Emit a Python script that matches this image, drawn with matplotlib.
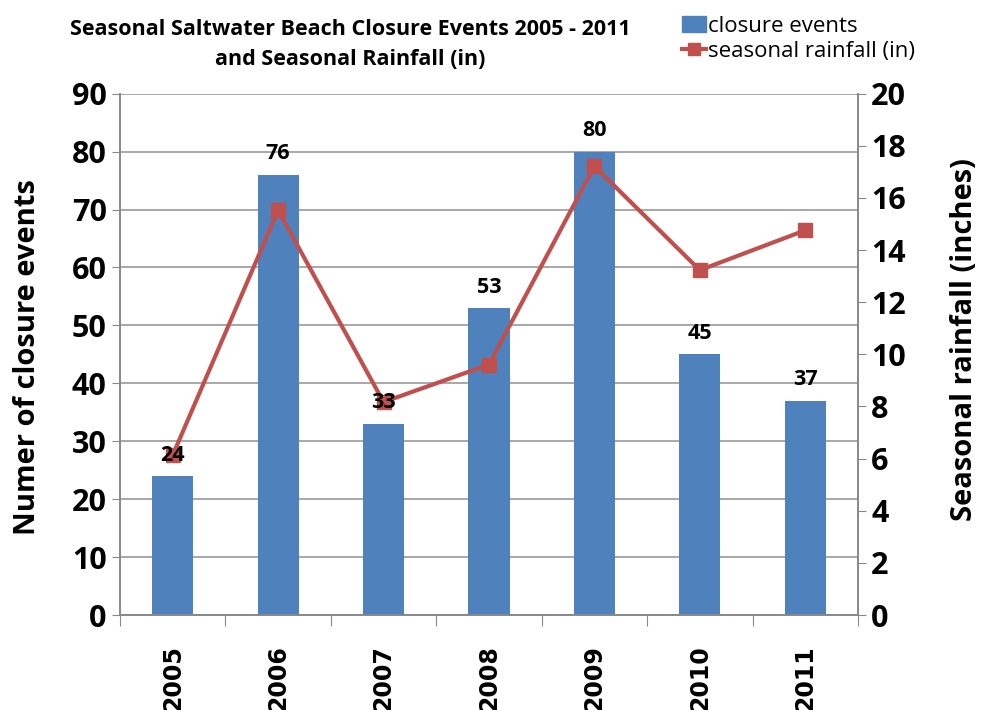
import matplotlib
matplotlib.use("Agg")
import matplotlib.pyplot as plt
import numpy as np
from matplotlib.lines import Line2D
from matplotlib.patches import Patch

years = ["2005", "2006", "2007", "2008", "2009", "2010", "2011"]
closures = [24, 76, 33, 53, 80, 45, 37]
rainfall = [6.13, 15.53, 8.17, 9.61, 17.22, 13.23, 14.76]

font_main = ["Liberation Sans Narrow", "Open Sans", "DejaVu Sans"]
plt.rcParams['font.family'] = font_main

fig = plt.figure(figsize=(9.81, 7.10), dpi=100)
ax = fig.add_axes([0.1223, 0.1338, 0.7523, 0.7342])
ax2 = ax.twinx()

x = np.arange(len(years))
blue = "#4F81BD"
red = "#C0504D"
ax.bar(x, closures, width=0.39, color=blue, zorder=2)

ax2.plot(x, rainfall, color=red, lw=3, marker="s", markersize=10, zorder=3)
for xi, v in zip(x, closures):
    ax2.text(xi, v + 1.8, str(v), ha="center", va="bottom", fontsize=15.5,
             fontweight="bold", zorder=10, transform=ax.transData)

ax.set_xlim(-0.5, len(years) - 0.5)
ax.set_ylim(0, 90)
ax.set_yticks(range(0, 91, 10))
ax2.set_ylim(0, 20)
ax2.set_yticks(range(0, 21, 2))

ax.yaxis.grid(True, color="#999999", lw=1.2, zorder=0)
ax.set_axisbelow(True)

# x ticks between categories
ax.set_xticks(np.arange(-0.5, len(years), 1.0))
ax.set_xticklabels([])
ax.set_xticks(x, minor=True)
ax.set_xticklabels(years, minor=True, rotation=90, fontsize=17, fontweight="bold", family="DejaVu Sans")
ax.tick_params(axis="x", which="major", length=8, color="#888888", direction="out")
ax.tick_params(axis="x", which="minor", length=0, pad=22)

for a in (ax, ax2):
    for s in a.spines.values():
        s.set_color("#888888")
        s.set_linewidth(1.2)
    a.spines["top"].set_visible(False)

ax.tick_params(axis="y", length=6, color="#888888", labelsize=22)
ax2.tick_params(axis="y", length=6, color="#888888", labelsize=22)
for lab in ax.get_yticklabels() + ax2.get_yticklabels():
    lab.set_fontweight("bold")

ax.set_ylabel("Numer of closure events", fontsize=21, fontweight="bold")
ax.yaxis.set_label_coords(-0.106, 0.495)
ax2.set_ylabel("Seasonal rainfall (inches)", fontsize=21, fontweight="bold")
ax2.yaxis.set_label_coords(1.125, 0.529)

fig.text(0.357, 0.958, "Seasonal Saltwater Beach Closure Events 2005 - 2011",
         ha="center", va="center", fontsize=15.5, fontweight="bold")
fig.text(0.357, 0.916, "and Seasonal Rainfall (in)",
         ha="center", va="center", fontsize=15.5, fontweight="bold")

handles = [Patch(facecolor=blue, edgecolor=blue),
           Line2D([0], [0], color=red, lw=3, marker="s", markersize=8)]
leg = fig.legend(handles, ["closure events", "seasonal rainfall (in)"],
                 loc="upper left", bbox_to_anchor=(0.679, 1.0), frameon=False,
                 fontsize=16, handlelength=1.1, handletextpad=0.1, labelspacing=0.2,
                 borderaxespad=0.3)

fig.savefig("out.png", dpi=100)
